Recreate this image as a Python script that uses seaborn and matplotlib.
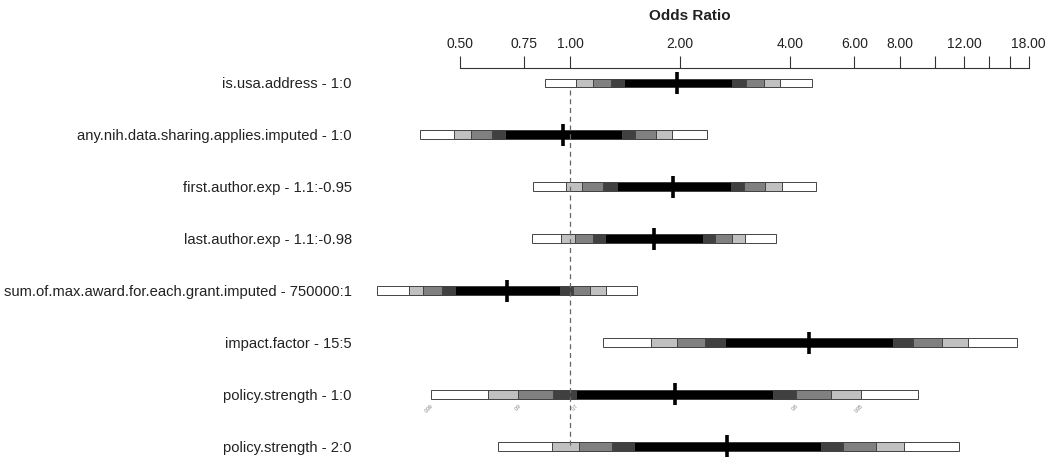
import numpy as np
import pandas as pd
import matplotlib.pyplot as plt
import seaborn as sns

# Odds ratio summary (rows top to bottom)
labels = ['is.usa.address - 1:0',
          'any.nih.data.sharing.applies.imputed - 1:0',
          'first.author.exp - 1.1:-0.95',
          'last.author.exp - 1.1:-0.98',
          'sum.of.max.award.for.each.grant.imputed - 750000:1',
          'impact.factor - 15:5',
          'policy.strength - 1:0',
          'policy.strength - 2:0']
est = [1.967, 0.958, 1.917, 1.698, 0.674, 4.519, 1.932, 2.683]

lo99 = [0.853, 0.389, 0.791, 0.786, 0.297, 1.229, 0.416, 0.635]
lo95 = [1.037, 0.482, 0.973, 0.945, 0.363, 1.666, 0.597, 0.892]
lo90 = [1.154, 0.536, 1.081, 1.032, 0.397, 1.959, 0.722, 1.061]
lo80 = [1.292, 0.610, 1.229, 1.158, 0.445, 2.341, 0.898, 1.300]
lo70 = [1.405, 0.664, 1.342, 1.247, 0.485, 2.656, 1.037, 1.500]
hi70 = [2.780, 1.385, 2.753, 2.317, 0.939, 7.670, 3.583, 4.863]
hi80 = [3.025, 1.506, 3.000, 2.493, 1.017, 8.700, 4.152, 5.595]
hi90 = [3.400, 1.716, 3.418, 2.782, 1.134, 10.45, 5.170, 6.874]
hi95 = [3.750, 1.897, 3.795, 3.019, 1.255, 12.26, 6.240, 8.180]
hi99 = [4.590, 2.367, 4.705, 3.663, 1.522, 16.69, 8.960, 11.62]

tick_vals = [0.5, 0.75, 1, 2, 4, 6, 8, 10, 12, 14, 16, 18]
tick_labs = ['0.50', '0.75', '1.00', '2.00', '4.00', '6.00', '8.00', '', '12.00', '', '', '18.00']

sns.set_style('white')
plt.rcParams['font.family'] = ['Liberation Sans', 'DejaVu Sans']

rows = np.arange(len(labels))
intervals = [(lo99, hi99), (lo95, hi95), (lo90, hi90), (lo80, hi80), (lo70, hi70)]
shades = ['white', '#c0c0c0', '#808080', '#404040', 'black']

fig = plt.figure(figsize=(10.5, 4.61), dpi=100)
ax = fig.add_axes([370 / 1050, 0, 670 / 1050, 1 - 68 / 461])
ax.set_xscale('log', base=2)

# nested confidence bars, widest first
for (lo, hi), col in zip(intervals, shades):
    lo = np.array(lo)
    hi = np.array(hi)
    ax.barh(rows, hi - lo, left=lo, height=0.17, color=col,
            edgecolor='#444444', linewidth=0.7, zorder=2)

# reference line at OR = 1
ax.plot([1, 1], [0.13, 6.97], color='#666666', linestyle=(0, (4, 3)),
        linewidth=0.9, zorder=3)

# point estimates
pts = pd.DataFrame({'est': est, 'row': rows})
sns.scatterplot(data=pts, x='est', y='row', marker='|', s=230,
                linewidth=2.6, color='black', ax=ax, zorder=4, legend=False)

# key for the confidence levels under the policy.strength 1:0 bar
k = 6
key_x = [lo99[k], lo90[k], lo70[k], hi80[k], hi95[k]]
key_t = ['0.99', '0.9', '0.7', '0.8', '0.95']
for xv, t in zip(key_x, key_t):
    ax.text(xv, k + 0.17, t, fontsize=3.5, color='#777777', rotation=45,
            ha='right', va='top', rotation_mode='anchor', zorder=5)

ax.set_xlim(2 ** ((370 - 570) / 110), 2 ** ((1040 - 570) / 110))
ax.set_ylim(7.283, -0.289)

ax.xaxis.tick_top()
ax.set_xticks(tick_vals)
ax.set_xticklabels(tick_labs, fontsize=10, color='#222222')
ax.xaxis.set_minor_locator(plt.NullLocator())
ax.tick_params(axis='x', direction='out', length=8.5, width=0.8,
               color='#333333', pad=4)

ax.set_yticks(rows)
ax.set_yticklabels(labels, fontsize=10.6, color='#222222')
ax.tick_params(axis='y', length=0, pad=13)

for s in ['left', 'right', 'bottom']:
    ax.spines[s].set_visible(False)
ax.spines['top'].set_bounds(0.5, 18)
ax.spines['top'].set_color('#333333')
ax.spines['top'].set_linewidth(0.8)
ax.set_xlabel('')
ax.set_ylabel('')

fig.text(690 / 1050, 1 - 16 / 461, 'Odds Ratio', ha='center', va='center',
         fontsize=11, fontweight='bold', color='#222222')

fig.savefig('out.png', dpi=100)
